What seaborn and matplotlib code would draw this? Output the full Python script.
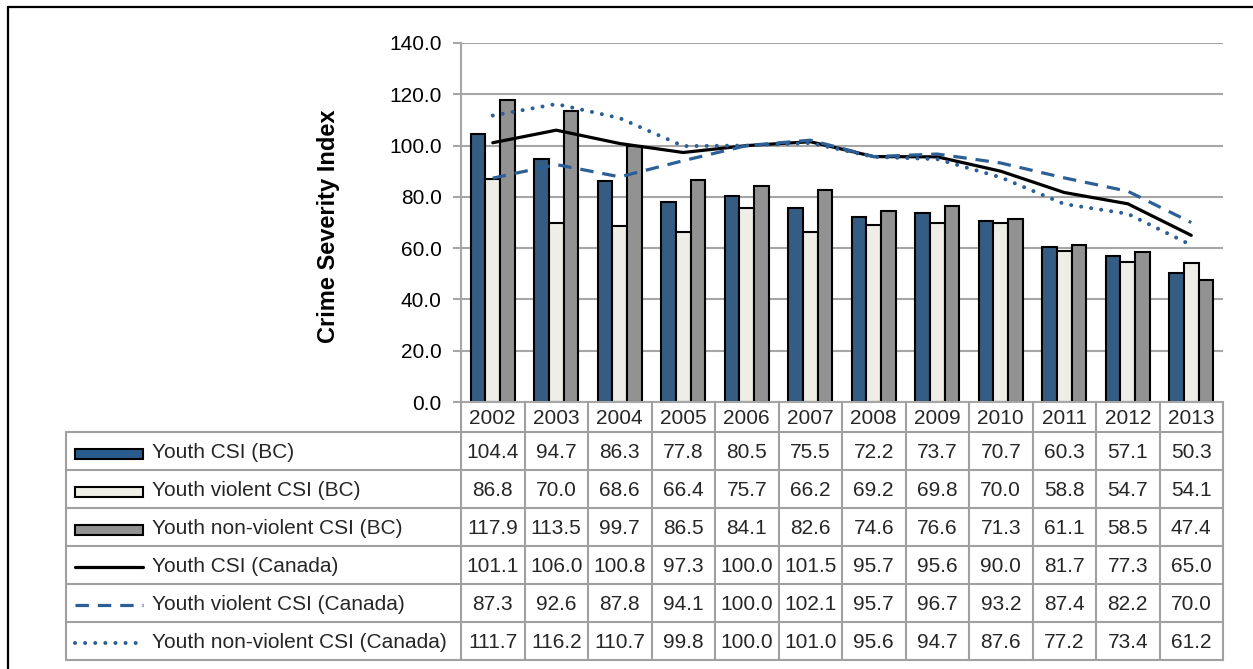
import matplotlib
matplotlib.use("Agg")
import matplotlib.pyplot as plt
import matplotlib.transforms as mtransforms
from matplotlib.lines import Line2D
from matplotlib.patches import Rectangle
import numpy as np
import pandas as pd
import seaborn as sns

# ---- data -------------------------------------------------------------
years = ["2002", "2003", "2004", "2005", "2006", "2007",
         "2008", "2009", "2010", "2011", "2012", "2013"]

youth_csi_bc = [104.4, 94.7, 86.3, 77.8, 80.5, 75.5, 72.2, 73.7, 70.7, 60.3, 57.1, 50.3]
youth_violent_bc = [86.8, 70.0, 68.6, 66.4, 75.7, 66.2, 69.2, 69.8, 70.0, 58.8, 54.7, 54.1]
youth_nonviolent_bc = [117.9, 113.5, 99.7, 86.5, 84.1, 82.6, 74.6, 76.6, 71.3, 61.1, 58.5, 47.4]
youth_csi_canada = [101.1, 106.0, 100.8, 97.3, 100.0, 101.5, 95.7, 95.6, 90.0, 81.7, 77.3, 65.0]
youth_violent_canada = [87.3, 92.6, 87.8, 94.1, 100.0, 102.1, 95.7, 96.7, 93.2, 87.4, 82.2, 70.0]
youth_nonviolent_canada = [111.7, 116.2, 110.7, 99.8, 100.0, 101.0, 95.6, 94.7, 87.6, 77.2, 73.4, 61.2]

bar_names = ["Youth CSI (BC)", "Youth violent CSI (BC)", "Youth non-violent CSI (BC)"]
line_names = ["Youth CSI (Canada)", "Youth violent CSI (Canada)",
              "Youth non-violent CSI (Canada)"]
bar_series = [youth_csi_bc, youth_violent_bc, youth_nonviolent_bc]
line_series = [youth_csi_canada, youth_violent_canada, youth_nonviolent_canada]

# ---- styles -----------------------------------------------------------
bar_colors = ["#285c8f", "#efefe6", "#929292"]
line_blue = "#2b5f96"
line_styles = [
    dict(color="black", linewidth=2.3, linestyle="-"),
    dict(color=line_blue, linewidth=2.3, linestyle=(0, (4.2, 2.8))),
    dict(color=line_blue, linewidth=2.9, linestyle=(0, (0.01, 2.5)),
         dash_capstyle="round"),
]
grid_gray = "#a6a6a6"
FS = 15

sns.set_theme(style="white")
plt.rcParams["font.family"] = ["Liberation Sans", "DejaVu Sans"]

W, H = 1253, 669
fig = plt.figure(figsize=(W / 100, H / 100), dpi=100)
fig.patch.set_facecolor("white")

def fx(px):
    return px / W

def fy(py):
    return 1 - py / H

ax_left, ax_right, ax_top, ax_bottom = 461, 1223, 43, 402
ax = fig.add_axes([fx(ax_left), fy(ax_bottom),
                   (ax_right - ax_left) / W, (ax_bottom - ax_top) / H])

# ---- bars -------------------------------------------------------------
bars_df = pd.DataFrame({
    "year": np.repeat(years, len(bar_names)),
    "series": bar_names * len(years),
    "value": np.array(bar_series).T.ravel(),
})
sns.barplot(data=bars_df, x="year", y="value", hue="series",
            order=years, hue_order=bar_names, palette=bar_colors,
            width=0.69, gap=0, edgecolor="black", linewidth=1.5,
            legend=False, ax=ax, zorder=2)

# ---- lines ------------------------------------------------------------
pos = np.arange(len(years))
for vals, style in zip(line_series, line_styles):
    sns.lineplot(x=pos, y=vals, ax=ax, legend=False, zorder=3,
                 solid_joinstyle="round", **style)

# ---- axes -------------------------------------------------------------
ax.set_xlim(-0.5, len(years) - 0.5)
ax.set_ylim(0, 140)
ax.set_yticks(np.arange(0, 141, 20))
ax.set_yticklabels([f"{v:.1f}" for v in np.arange(0, 141, 20)])
ax.set_xticks([])
ax.set_xlabel("")
ax.yaxis.grid(True, color=grid_gray, linewidth=1.5)
ax.set_axisbelow(True)
for side in ["top", "right"]:
    ax.spines[side].set_visible(False)
for side in ["left", "bottom"]:
    ax.spines[side].set_color(grid_gray)
    ax.spines[side].set_linewidth(1.5)
ax.tick_params(axis="y", left=True, length=6, width=1.5, color=grid_gray,
               labelsize=FS, pad=8, labelcolor="black")
ax.set_ylabel("Crime Severity Index", fontsize=17, fontweight="bold",
              color="black")
ax.yaxis.set_label_coords(-0.159, 0.49)

# ---- data table -------------------------------------------------------
trans = mtransforms.blended_transform_factory(ax.transData, fig.transFigure)
tab_gray = "#a0a0a0"
header_top, header_bot, table_bot = 402, 432, 660
label_left = 66
row_h = (table_bot - header_bot) / 6

def hline(y, x0, x1):
    fig.add_artist(Line2D([fx(x0), fx(x1)], [fy(y), fy(y)],
                          color=tab_gray, linewidth=1.5, zorder=1))

# horizontal rules
for r in range(7):
    hline(header_bot + r * row_h, label_left, ax_right)
# label column left edge
fig.add_artist(Line2D([fx(label_left)] * 2, [fy(header_bot), fy(table_bot)],
                      color=tab_gray, linewidth=1.5))
# column separators
for b in np.arange(-0.5, len(years), 1.0):
    fig.add_artist(Line2D([b, b], [fy(header_top), fy(table_bot)],
                          transform=trans, color=tab_gray, linewidth=1.5))

# header years
for i, yr in enumerate(years):
    fig.text(i, fy((header_top + header_bot) / 2 + 1), yr, transform=trans,
             ha="center", va="center", fontsize=FS)

# rows: legend key, name, values
names = bar_names + line_names
series = bar_series + line_series
key_x0, key_x1, text_x = 75, 143, 152
for r, (name, vals) in enumerate(zip(names, series)):
    cy = header_bot + (r + 0.5) * row_h + 1.5
    if r < 3:
        fig.add_artist(Rectangle((fx(key_x0), fy(cy + 6)),
                                 (key_x1 - key_x0) / W, 10 / H,
                                 facecolor=bar_colors[r], edgecolor="black",
                                 linewidth=1.5, transform=fig.transFigure))
    else:
        fig.add_artist(Line2D([fx(key_x0), fx(key_x1)], [fy(cy), fy(cy)],
                              **line_styles[r - 3]))
    fig.text(fx(text_x), fy(cy), name, ha="left", va="center", fontsize=FS)
    for i, v in enumerate(vals):
        fig.text(i, fy(cy), f"{v:.1f}", transform=trans,
                 ha="center", va="center", fontsize=FS)

# outer frame
fig.add_artist(Line2D([fx(8), 1.0], [fy(7), fy(7)], color="black", linewidth=1.6))
fig.add_artist(Line2D([fx(8), fx(8)], [fy(7), 0.0], color="black", linewidth=1.6))

fig.savefig("out.png", dpi=100)
